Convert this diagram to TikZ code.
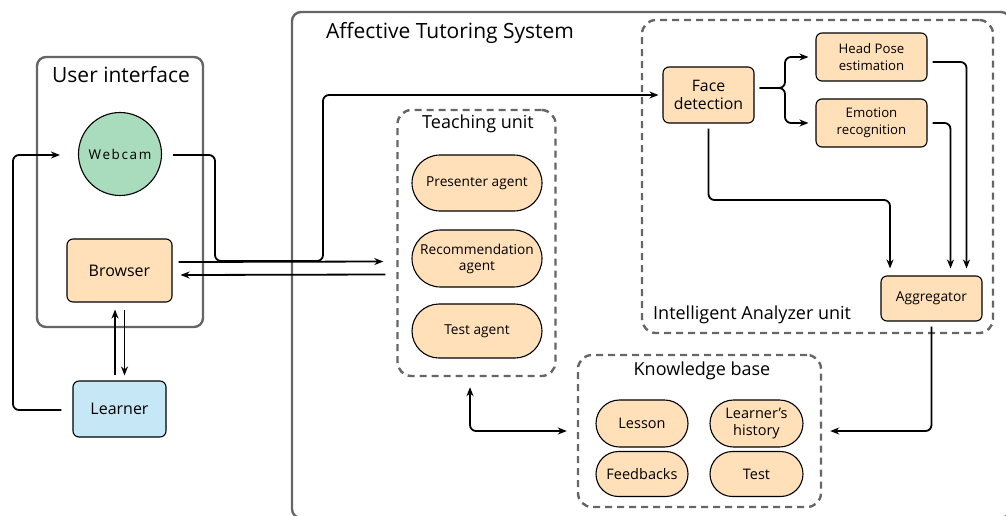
\documentclass[tikz,border=0pt]{standalone}
\usepackage{fontspec}
\setmainfont{Open Sans}
\usetikzlibrary{arrows.meta,shapes.misc,positioning}
\definecolor{peach}{HTML}{FFE0B9}
\definecolor{mint}{HTML}{A9DBBD}
\definecolor{sky}{HTML}{C6E8F6}
\definecolor{frame}{HTML}{666666}
\tikzset{
  container/.style={draw=frame, line width=2.4pt, rounded corners=9pt, inner sep=0pt},
  dashbox/.style={draw=frame, line width=2.4pt, dash pattern=on 7pt off 5pt, rounded corners=14pt, inner sep=0pt},
  box/.style={draw=black, line width=1.1pt, fill=peach, rounded corners=6pt, align=center, inner sep=1pt, font=\fontsize{13.5}{16}\selectfont},
  pill/.style={draw=black, line width=1.1pt, fill=peach, rounded rectangle, align=center, inner sep=1pt, font=\fontsize{13.7}{16}\selectfont},
  arr/.style={draw=black, line width=1.8pt, -{Stealth[length=9pt,width=7pt]}, rounded corners=6pt},
  biarr/.style={draw=black, line width=1.8pt, {Stealth[length=9pt,width=7pt]}-{Stealth[length=9pt,width=7pt]}, rounded corners=6pt},
  ttl/.style={font=\fontsize{21}{24}\selectfont, inner sep=0pt},
  sttl/.style={font=\fontsize{18}{21}\selectfont, inner sep=0pt}
}
\begin{document}
\begin{tikzpicture}[x=1pt,y=-1pt]
\useasboundingbox (0,0) rectangle (1006,515);
% containers
\node[container, minimum width=166pt, minimum height=270pt] (ui) at (120,192) {};
\node[ttl] (uit) at (121,75) {User interface};
\node[container, minimum width=718pt, minimum height=506pt] (ats) at (651,265) {};
\node[ttl] (atst) at (450,33) {Affective Tutoring System};
\node[dashbox, minimum width=158pt, minimum height=266pt] (teach) at (476.5,243) {};
\node[sttl] (teacht) at (478,124) {Teaching unit};
\node[dashbox, minimum width=351pt, minimum height=313pt] (iau) at (817.5,176.5) {};
\node[sttl, anchor=west] (iaut) at (653,315) {Intelligent Analyzer unit};
\node[dashbox, minimum width=243pt, minimum height=152pt] (kb) at (699.5,431) {};
\node[sttl] (kbt) at (702,371) {Knowledge base};
% UI nodes
\node[circle, draw=black, line width=1.1pt, fill=mint, minimum size=83pt, inner sep=0pt,
      font=\fontsize{13.5}{15}\selectfont\addfontfeature{LetterSpace=12}] (webcam) at (120,154) {Webcam};
\node[box, fill=peach, minimum width=105pt, minimum height=63pt, font=\fontsize{16}{18}\selectfont] (browser) at (119.5,270.5) {Browser};
\node[box, fill=sky, minimum width=93pt, minimum height=56pt, font=\fontsize{16}{18}\selectfont] (learner) at (119.5,409) {Learner};
% teaching unit
\node[pill, minimum width=132pt, minimum height=56pt] (pres) at (477,183) {Presenter agent};
\node[pill, minimum width=132pt, minimum height=57pt] (rec) at (477,258.5) {Recommendation\\agent};
\node[pill, minimum width=132pt, minimum height=54pt] (tagent) at (477,331) {Test agent};
% analyzer
\node[box, minimum width=91pt, minimum height=56pt, font=\fontsize{15.8}{18}\selectfont] (face) at (708.5,95) {Face\\detection};
\node[box, minimum width=111pt, minimum height=48pt, font=\fontsize{13.2}{17}\selectfont] (head) at (871.5,57) {Head Pose\\estimation};
\node[box, minimum width=111pt, minimum height=48pt, font=\fontsize{13.2}{17}\selectfont] (emo) at (871.5,123) {Emotion\\recognition};
\node[box, minimum width=101pt, minimum height=45pt, font=\fontsize{13.8}{16}\selectfont] (agg) at (931.5,298.5) {Aggregator};
% knowledge base
\node[pill, minimum width=94pt, minimum height=47pt, font=\fontsize{14.5}{17}\selectfont] (lesson) at (642,423.5) {Lesson};
\node[pill, minimum width=95pt, minimum height=47pt, font=\fontsize{14.5}{17}\selectfont] (hist) at (756.5,423.5) {Learner's\\history};
\node[pill, minimum width=94pt, minimum height=45pt, font=\fontsize{14.5}{17}\selectfont] (feed) at (642,474) {Feedbacks};
\node[pill, minimum width=95pt, minimum height=45pt, font=\fontsize{14.5}{17}\selectfont] (ktest) at (756.5,474) {Test};
% connectors
\draw[arr] ([xshift=-11pt,yshift=-1pt]learner.west) -| (13,155) -- ([xshift=-18pt,yshift=-1pt]webcam.west);
\draw[arr] ([xshift=11pt,yshift=-1pt]webcam.east) -| (215,261) -| (323,95) -- ([xshift=-4pt]face.west);
\draw[arr, rounded corners=0pt] ([shift={(6pt,8.5pt)}]browser.east) -- ([shift={(-13pt,-18.5pt)}]teach.west);
\draw[arr, rounded corners=0pt] ([shift={(-11pt,-31.5pt)}]teach.west) -- ([shift={(8pt,-4.5pt)}]browser.east);
\draw[arr, rounded corners=0pt] ([shift={(-4.5pt,5pt)}]learner.north) -- ([shift={(-4.5pt,-7pt)}]browser.south);
\draw[arr, rounded corners=0pt] ([shift={(5pt,-7pt)}]browser.south) -- ([shift={(5pt,5pt)}]learner.north);
\draw[arr] ([shift={(5pt,7pt)}]face.east) -| (785,57) -- ([xshift=-7pt]head.west);
\draw[arr] ([shift={(5pt,7pt)}]face.east) -| (785,123) -- ([xshift=-7pt]emo.west);
\draw[arr, shorten >=7pt] ([shift={(5pt,-5pt)}]head.east) -| ([xshift=35pt]agg.north);
\draw[arr, shorten >=7pt] ([xshift=5pt]emo.east) -| ([xshift=19pt]agg.north);
\draw[arr, shorten >=7pt] ([yshift=-5pt]face.south) |- (890,200) -- ([xshift=-41.5pt]agg.north);
\draw[arr] ([yshift=-5pt]agg.south) |- ([xshift=8pt]kb.east);
\draw[biarr] ([shift={(-6.5pt,-10pt)}]teach.south) |- ([xshift=-10pt]kb.west);
\end{tikzpicture}
\end{document}
